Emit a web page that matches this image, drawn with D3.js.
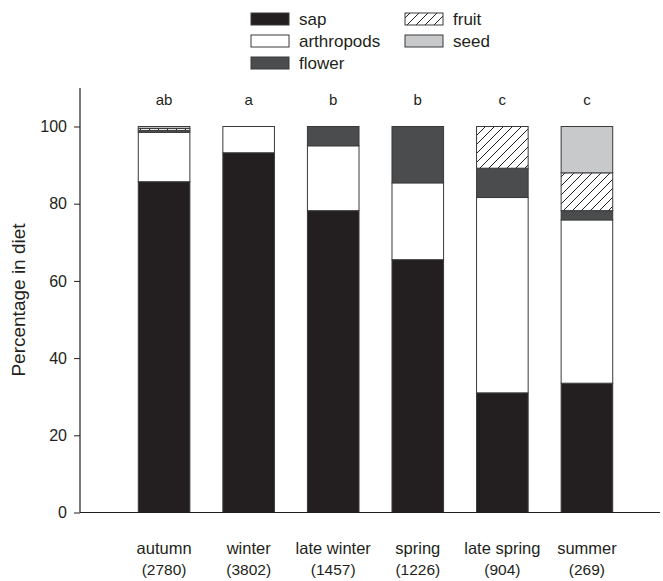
<!DOCTYPE html>
<html><head><meta charset="utf-8">
<script src="https://cdn.jsdelivr.net/npm/d3@7"></script>
<style>body{margin:0;background:#fff}svg{display:block;font-family:"Liberation Sans",Arial,sans-serif}</style>
</head><body><svg id="c" width="663" height="581"></svg>
<script>
const seasons = ["autumn","winter","late winter","spring","late spring","summer"];
const sampleSizes = ["(2780)","(3802)","(1457)","(1226)","(904)","(269)"];
const letters = ["ab","a","b","b","c","c"];
const sap        = [85.7, 93.2, 78.2, 65.5, 31.0, 33.5];
const arthropods = [12.8,  6.8, 16.8, 19.9, 50.6, 42.3];
const flower     = [ 0.5,  0,    5.0, 14.6,  7.6,  2.4];
const fruit      = [ 0.5,  0,    0,    0,   10.8,  9.8];
const seed       = [ 0.5,  0,    0,    0,    0,   12.0];
const yTicks = [0,20,40,60,80,100];
const keys = ["sap","arthropods","flower","fruit","seed"];
const seriesVals = {sap, arthropods, flower, fruit, seed};
const fills = {sap:"#231f20", arthropods:"#ffffff", flower:"#4a4c4d", fruit:"url(#hatch)", seed:"#c8c9cb"};
const ink = "#231f20";

const svg = d3.select("#c");
const defs = svg.append("defs");
const pat = defs.append("pattern").attr("id","hatch").attr("patternUnits","userSpaceOnUse")
  .attr("width",9).attr("height",9);
pat.append("rect").attr("width",9).attr("height",9).attr("fill","#fff");
pat.append("path").attr("d","M-1,10 L10,-1 M-5,5 L5,-5 M4,14 L14,4").attr("stroke",ink).attr("stroke-width",1);

const x = d3.scaleBand().domain(seasons).range([96, 655]).paddingInner(0.39).paddingOuter(0.5);
const y = d3.scaleLinear().domain([0,100]).range([512.5, 126.5]);

const rows = seasons.map((s,i)=>{const o={season:s}; keys.forEach(k=>o[k]=seriesVals[k][i]); return o;});
const stacked = d3.stack().keys(keys)(rows);

const g = svg.append("g");
stacked.forEach(layer=>{
  g.selectAll(null).data(layer.filter(d=>d[1]-d[0]>0)).enter().append("rect")
    .attr("x", d=>x(d.data.season))
    .attr("width", x.bandwidth())
    .attr("y", d=>y(d[1]))
    .attr("height", d=>y(d[0])-y(d[1]))
    .attr("fill", fills[layer.key])
    .attr("stroke","#3a3a3a").attr("stroke-width",1);
});

// y axis
const yAxis = d3.axisLeft(y).tickValues(yTicks).tickSize(6).tickPadding(7);
const ya = svg.append("g").attr("transform","translate(80,0)").call(yAxis);
ya.attr("font-size",16).attr("font-family","Liberation Sans, Arial, sans-serif");
ya.select(".domain").remove();
ya.selectAll("line").attr("stroke",ink);
ya.selectAll("text").attr("fill",ink);
svg.append("line").attr("x1",80).attr("x2",80).attr("y1",88).attr("y2",512.5).attr("stroke",ink).attr("stroke-width",1.2);
svg.append("line").attr("x1",80).attr("x2",660).attr("y1",512.5).attr("y2",512.5).attr("stroke",ink).attr("stroke-width",1.2);

// x labels
seasons.forEach((s,i)=>{
  const cx = x(s)+x.bandwidth()/2;
  svg.append("text").attr("x",cx).attr("y",554).attr("text-anchor","middle").attr("font-size",16.5).attr("fill",ink).text(s);
  svg.append("text").attr("x",cx).attr("y",575).attr("text-anchor","middle").attr("font-size",15.5).attr("fill",ink).text(sampleSizes[i]);
  svg.append("text").attr("x",cx).attr("y",105).attr("text-anchor","middle").attr("font-size",15).attr("fill",ink).text(letters[i]);
});

svg.append("text").attr("transform","translate(25,300) rotate(-90)").attr("text-anchor","middle")
  .attr("font-size",19).attr("fill",ink).text("Percentage in diet");

// legend
const legPos = [[251,13],[251,35],[251,57],[405,13],[405,35]];
keys.forEach((k,i)=>{
  const [lx,ly]=legPos[i];
  svg.append("rect").attr("x",lx).attr("y",ly).attr("width",38).attr("height",12)
    .attr("fill",fills[k]).attr("stroke","#3a3a3a").attr("stroke-width",1);
  svg.append("text").attr("x",lx+48).attr("y",ly+12).attr("font-size",17).attr("fill",ink).text(k);
});
</script></body></html>
